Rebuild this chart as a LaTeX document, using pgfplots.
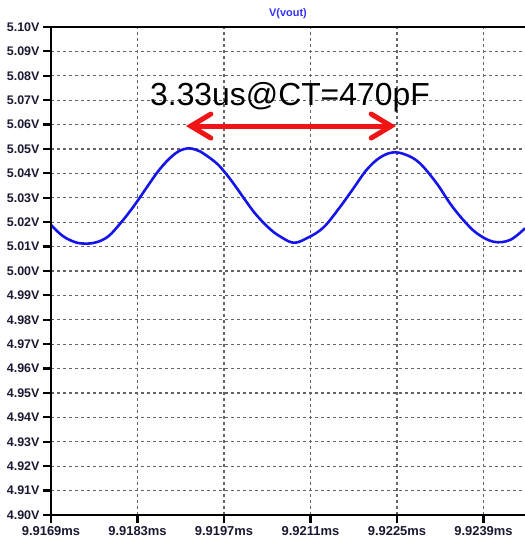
\documentclass[border=0pt]{standalone}
\usepackage{fontspec}
\setmainfont{Liberation Sans}
\usepackage{pgfplots}
\pgfplotsset{compat=1.18}
\usetikzlibrary{arrows.meta}
\definecolor{curve}{RGB}{20,20,235}
\definecolor{arrowred}{RGB}{240,20,20}
\definecolor{ticktxt}{RGB}{25,25,50}
\definecolor{gridc}{RGB}{100,100,100}
\definecolor{titleblue}{RGB}{50,50,255}
\begin{document}
\begin{tikzpicture}[x=1bp,y=1bp]
\begin{axis}[
 at={(51bp,23bp)}, anchor=south west,
 scale only axis, width=474bp, height=488bp,
 xmin=0, xmax=7.672, ymin=4.90, ymax=5.10,
 axis line style={draw=none},
 xtick={0,1.4,2.8,4.2,5.6,7.0},
 xticklabels={9.9169ms,9.9183ms,9.9197ms,9.9211ms,9.9225ms,9.9239ms},
 ytick={4.90,4.91,4.92,4.93,4.94,4.95,4.96,4.97,4.98,4.99,5.00,5.01,5.02,5.03,5.04,5.05,5.06,5.07,5.08,5.09,5.10},
 yticklabels={4.90V,4.91V,4.92V,4.93V,4.94V,4.95V,4.96V,4.97V,4.98V,4.99V,5.00V,5.01V,5.02V,5.03V,5.04V,5.05V,5.06V,5.07V,5.08V,5.09V,5.10V},
 xtick pos=bottom, ytick pos=left,
 tick align=outside, major tick length=8bp,
 tick style={black, line width=2.2bp},
 grid=major,
 major grid style={gridc, line width=1.3bp, dash pattern=on 3bp off 3bp},
 yticklabel style={font=\bfseries\fontsize{12.5}{14}\selectfont, text=ticktxt},
 xticklabel style={font=\bfseries\fontsize{13}{15}\selectfont, text=ticktxt},
 clip=false,
]
\addplot[curve, line width=2.6bp, smooth, tension=0.6] coordinates {
(0.000,5.0189) (0.167,5.0148) (0.329,5.0124) (0.490,5.0113) (0.707,5.0116)
(0.923,5.0141) (1.138,5.0200) (1.300,5.0252) (1.408,5.0290) (1.570,5.0350)
(1.732,5.0408) (1.894,5.0455) (2.056,5.0489) (2.217,5.0503) (2.352,5.0496)
(2.465,5.0482) (2.682,5.0441) (2.844,5.0395) (3.006,5.0340) (3.167,5.0282)
(3.329,5.0228) (3.545,5.0172) (3.706,5.0142) (3.922,5.0116) (4.139,5.0134)
(4.408,5.0178) (4.677,5.0262) (4.893,5.0338) (5.110,5.0415) (5.325,5.0465)
(5.540,5.0486) (5.757,5.0475) (5.972,5.0441) (6.243,5.0359) (6.458,5.0277)
(6.673,5.0209) (6.890,5.0155) (7.159,5.0120) (7.429,5.0127) (7.672,5.0175)
};
\draw[black, line width=2.6bp] (rel axis cs:1,1) -- (rel axis cs:0,1) -- (rel axis cs:0,0) -- (rel axis cs:1,0);
\draw[arrowred, line width=5bp, line cap=round, {Straight Barb[length=20bp,width=24bp,line cap=round]}-{Straight Barb[length=20bp,width=24bp,line cap=round]}]
 (axis cs:2.185,5.0594) -- (axis cs:5.584,5.0594);
\node[anchor=base, font=\fontsize{32}{36}\selectfont, inner sep=0pt] at (axis cs:3.868,5.068) {3.33us@CT=470pF};
\end{axis}
\node[font=\bfseries\fontsize{11}{13}\selectfont, text=titleblue] at (288,524) {V(vout)};
\pgfresetboundingbox
\path[use as bounding box] (0,0) rectangle (525,538);
\end{tikzpicture}
\end{document}
